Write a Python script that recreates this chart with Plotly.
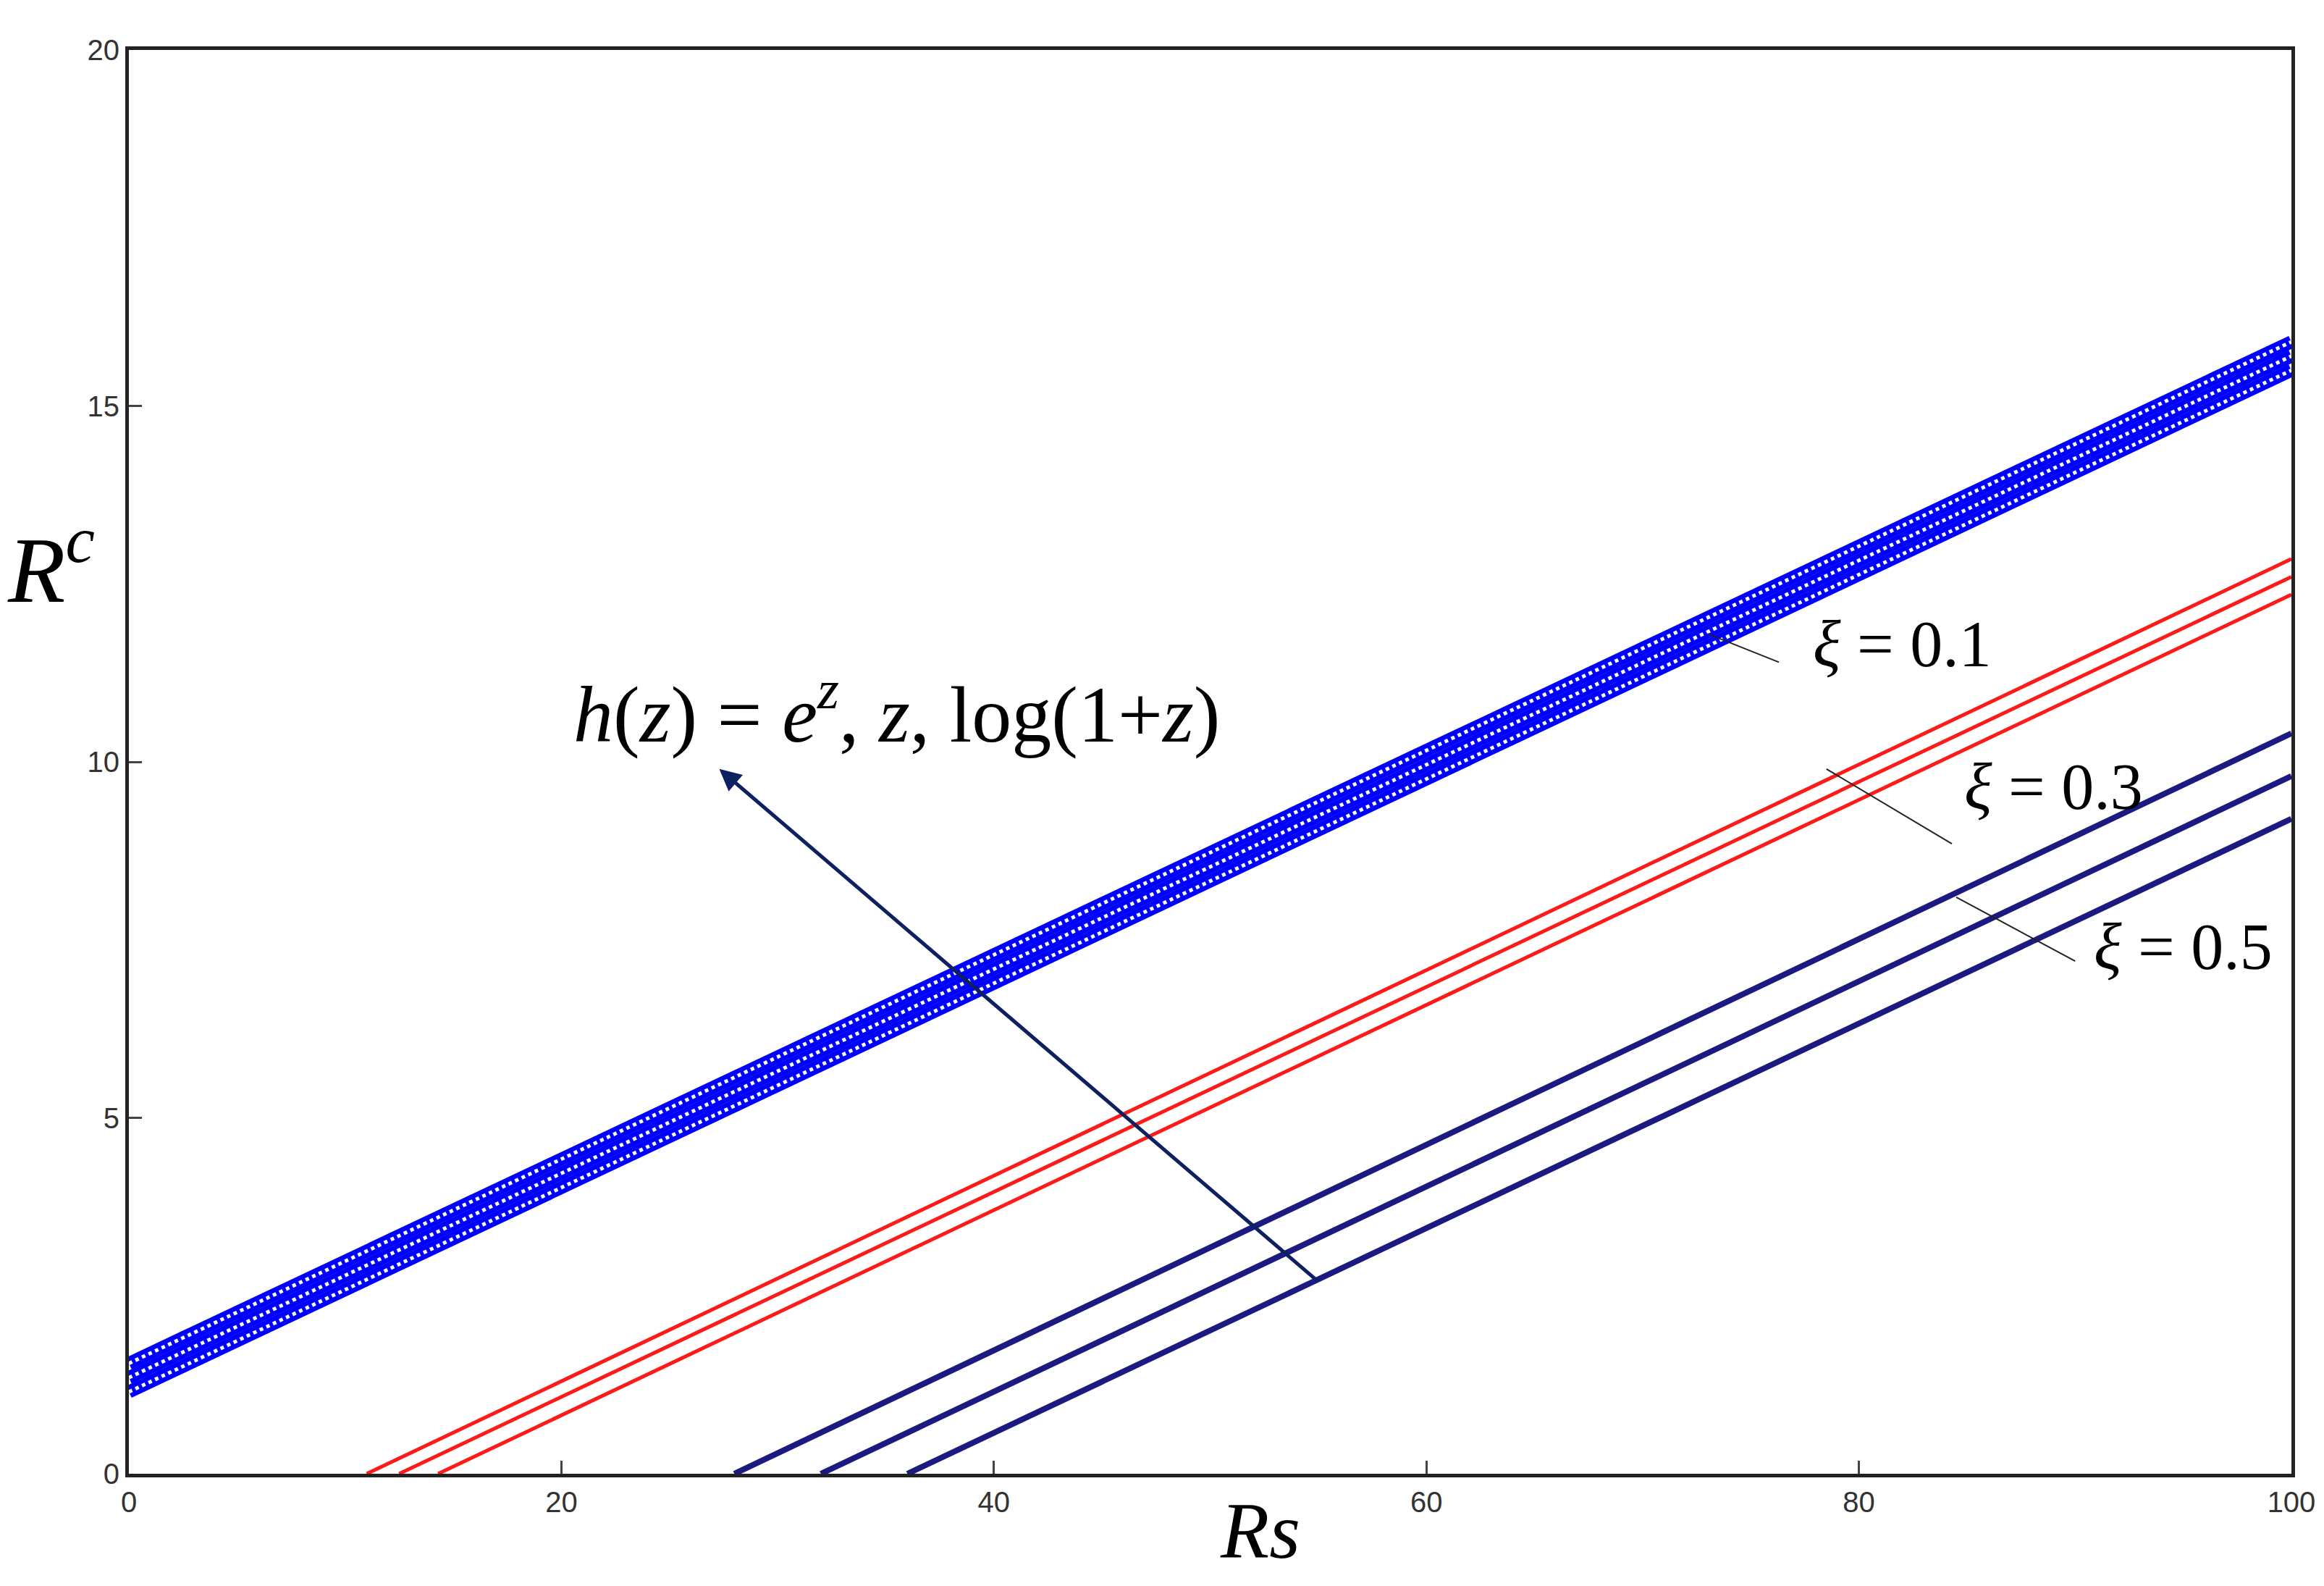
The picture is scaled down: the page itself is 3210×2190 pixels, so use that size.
import plotly.graph_objects as go

# start/end points of each curve (Rs, Rc)
rs_blue = [0, 100]
rc_blue = [[1.15, 15.5], [1.35, 15.7], [1.55, 15.9]]

rs_red_start = [11.0, 12.5, 14.3]
rc_red_end = [12.85, 12.6, 12.35]

rs_navy_start = [28.0, 32.0, 36.0]
rc_navy_end = [10.4, 9.8, 9.2]

xi_labels = ["\u03be = 0.1", "\u03be = 0.3", "\u03be = 0.5"]
xi_label_pos = [(82, 11.65), (89, 9.65), (95, 7.4)]
xi_leaders = [((73, 11.8), (76.3, 11.4)), ((78.5, 9.9), (84.3, 8.85)), ((84.5, 8.1), (90, 7.2))]

fig = go.Figure()

for ys in rc_blue:
    fig.add_trace(go.Scatter(x=rs_blue, y=ys, mode="lines",
                             line=dict(color="#0000ff", width=18)))
for ys in rc_blue:
    fig.add_trace(go.Scatter(x=rs_blue, y=ys, mode="lines",
                             line=dict(color="white", width=5, dash="dot")))

for x0, y1 in zip(rs_red_start, rc_red_end):
    fig.add_trace(go.Scatter(x=[x0, 100], y=[0, y1], mode="lines",
                             line=dict(color="#ff1a1a", width=5)))

for x0, y1 in zip(rs_navy_start, rc_navy_end):
    fig.add_trace(go.Scatter(x=[x0, 100], y=[0, y1], mode="lines",
                             line=dict(color="#1a1a80", width=8)))

for (a, b) in xi_leaders:
    fig.add_shape(type="line", x0=a[0], y0=a[1], x1=b[0], y1=b[1],
                  line=dict(color="#222", width=2))

for txt, (x, y) in zip(xi_labels, xi_label_pos):
    fig.add_annotation(x=x, y=y, text="<i>" + txt.split(" ")[0] + "</i>" + txt[1:],
                       showarrow=False, font=dict(family="Liberation Serif", size=90, color="black"))

# arrow
fig.add_annotation(x=27.3, y=9.9, ax=55, ay=2.7, xref="x", yref="y", axref="x", ayref="y",
                   showarrow=True, arrowhead=2, arrowsize=1.2, arrowwidth=5, arrowcolor="#0d2060", text="")
fig.add_annotation(x=35.5, y=10.75, showarrow=False,
                   text="<i>h</i>(<i>z</i>) = <i>e<sup>z</sup></i>, <i>z</i>, log(1+<i>z</i>)",
                   font=dict(family="Liberation Serif", size=110, color="black"))

fig.add_annotation(xref="paper", yref="paper", x=0.523, y=-0.04, yanchor="middle", showarrow=False,
                   text="<i>Rs</i>", font=dict(family="Liberation Serif", size=110, color="black"))
fig.add_annotation(xref="paper", yref="y", x=-0.057, y=12.8, showarrow=False,
                   text="<i>R<sup>c</sup></i>",
                   font=dict(family="Liberation Serif", size=130, color="black"))

tick_font = dict(family="Liberation Sans Narrow, Liberation Sans", size=40, color="#333")
fig.update_layout(
    width=3210, height=2190,
    margin=dict(l=170, r=53, t=61, b=163),
    plot_bgcolor="white", paper_bgcolor="white",
    showlegend=False,
)
fig.update_xaxes(range=[0, 100], tickvals=[0, 20, 40, 60, 80, 100], ticks="inside", ticklen=18,
                 tickwidth=3, showgrid=False, zeroline=False, showline=True, linecolor="#222",
                 linewidth=5, mirror=True, tickfont=tick_font)
fig.update_yaxes(range=[0, 20], tickvals=[0, 5, 10, 15, 20], ticks="inside", ticklen=18,
                 tickwidth=3, showgrid=False, zeroline=False, showline=True, linecolor="#222",
                 linewidth=5, mirror=True, tickfont=tick_font)

fig.write_html("out.html")
